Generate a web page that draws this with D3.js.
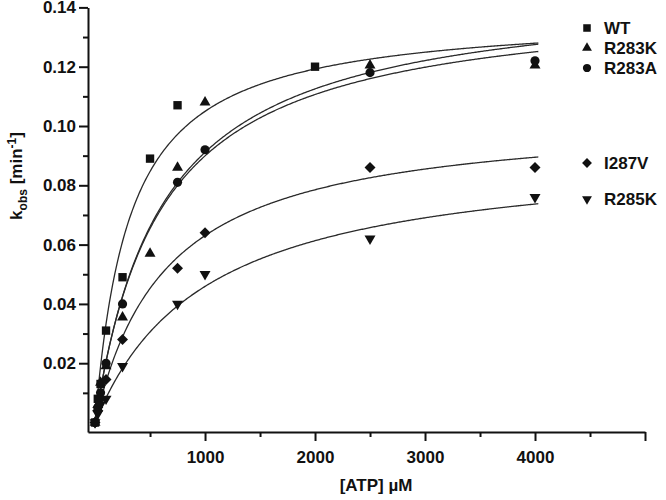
<!DOCTYPE html>
<html>
<head>
<meta charset="utf-8">
<script src="https://cdn.jsdelivr.net/npm/d3@7"></script>
<style>
  html, body { margin: 0; padding: 0; background: #fff; }
  svg { display: block; }
  text { font-family: "Liberation Sans", Arial, Helvetica, sans-serif; font-weight: bold; fill: #111; }
</style>
</head>
<body>
<svg id="chart" width="666" height="500"></svg>
<script>
// ---- data ----
const seriesNames = ["WT", "R283K", "R283A", "I287V", "R285K"];
const seriesSymbols = ["square", "triangle", "circle", "diamond", "downTriangle"];

const xWT    = [0, 25, 50, 100, 250, 500, 750, 2000];
const yWT    = [0, 0.008, 0.013, 0.031, 0.049, 0.089, 0.107, 0.120];
const xR283K = [0, 25, 50, 100, 250, 500, 750, 1000, 2500, 4000];
const yR283K = [0, 0.006, 0.0135, 0.019, 0.0355, 0.057, 0.086, 0.108, 0.1205, 0.1205];
const xR283A = [0, 25, 50, 100, 250, 750, 1000, 2500, 4000];
const yR283A = [0, 0.005, 0.010, 0.020, 0.040, 0.081, 0.092, 0.118, 0.122];
const xI287V = [0, 25, 50, 100, 250, 750, 1000, 2500, 4000];
const yI287V = [0, 0.004, 0.008, 0.0145, 0.028, 0.052, 0.064, 0.086, 0.086];
const xR285K = [0, 25, 50, 100, 250, 750, 1000, 2500, 4000];
const yR285K = [0, 0.003, 0.006, 0.008, 0.019, 0.040, 0.050, 0.062, 0.076];

// Michaelis-Menten fit parameters (kmax, Km)
const fitKmax = [0.138, 0.147, 0.1437, 0.104, 0.0923];
const fitKm   = [315, 613, 598, 650, 1011];
const fitXmax = 4030;

const xMajorTicks = [1000, 2000, 3000, 4000, 5000];
const xTickLabels = ["1000", "2000", "3000", "4000", ""];
const xMinorTicks = [500, 1500, 2500, 3500, 4500];
const yMajorTicks = [0.02, 0.04, 0.06, 0.08, 0.10, 0.12, 0.14];
const yTickLabels = ["0.02", "0.04", "0.06", "0.08", "0.10", "0.12", "0.14"];
const yMinorTicks = [0.01, 0.03, 0.05, 0.07, 0.09, 0.11, 0.13];

const legendY = [28, 48, 68, 163, 199];

const allX = [xWT, xR283K, xR283A, xI287V, xR285K];
const allY = [yWT, yR283K, yR283A, yI287V, yR285K];

// ---- scales ----
const x = d3.scaleLinear().domain([-64, 5000]).range([88, 645]);
const y = d3.scaleLinear().domain([-0.0032, 0.14]).range([432, 7.4]);

const svg = d3.select("#chart");

// ---- axes ----
const gx = svg.append("g").attr("transform", "translate(0,432)");
gx.call(d3.axisBottom(x).tickValues(xMajorTicks).tickSize(9).tickSizeOuter(0).tickPadding(10)
  .tickFormat((d, i) => xTickLabels[i]));
gx.append("g").call(d3.axisBottom(x).tickValues(xMinorTicks).tickSize(5).tickSizeOuter(0).tickFormat(""))
  .select(".domain").remove();

const gy = svg.append("g").attr("transform", "translate(88,0)");
gy.call(d3.axisLeft(y).tickValues(yMajorTicks).tickSize(9).tickSizeOuter(0).tickPadding(3)
  .tickFormat((d, i) => yTickLabels[i]));
gy.append("g").call(d3.axisLeft(y).tickValues(yMinorTicks).tickSize(5).tickSizeOuter(0).tickFormat(""))
  .select(".domain").remove();

svg.selectAll(".domain").attr("stroke", "#111").attr("stroke-width", 2);
svg.selectAll(".tick line").attr("stroke", "#111").attr("stroke-width", 2);
svg.selectAll(".tick text").attr("font-size", 17).attr("font-family", "Liberation Sans, Arial, sans-serif")
  .attr("font-weight", "bold").attr("fill", "#111");

// ---- axis titles ----
svg.append("text").attr("x", 376).attr("y", 491).attr("text-anchor", "middle")
  .attr("font-size", 17).text("[ATP] µM");

const yt = svg.append("text").attr("transform", "translate(22,176) rotate(-90)")
  .attr("text-anchor", "middle").attr("font-size", 17);
yt.append("tspan").text("k");
yt.append("tspan").attr("font-size", 12).attr("dy", 5).text("obs");
yt.append("tspan").attr("dy", -5).text(" [min");
yt.append("tspan").attr("font-size", 12).attr("dy", -6).text("-1");
yt.append("tspan").attr("dy", 6).text("]");

// ---- fitted curves ----
const line = d3.line().x(d => x(d[0])).y(d => y(d[1])).curve(d3.curveLinear);
fitKmax.forEach((kmax, i) => {
  const pts = d3.range(0, fitXmax + 1, 10).map(c => [c, kmax * c / (fitKm[i] + c)]);
  svg.append("path").attr("d", line(pts)).attr("fill", "none")
    .attr("stroke", "#2a2a2a").attr("stroke-width", 1.3);
});

// ---- markers ----
function symbolPath(type) {
  switch (type) {
    case "square": return d3.symbol(d3.symbolSquare, 70)();
    case "triangle": return d3.symbol(d3.symbolTriangle, 52)();
    case "circle": return d3.symbol(d3.symbolCircle, 66)();
    case "diamond": return d3.symbol(d3.symbolSquare, 60)();
    case "downTriangle": return d3.symbol(d3.symbolTriangle, 52)();
  }
}
function symbolRot(type) {
  if (type === "diamond") return 45;
  if (type === "downTriangle") return 180;
  return 0;
}

allX.forEach((xs, i) => {
  const type = seriesSymbols[i];
  const pts = xs.map((v, j) => [v, allY[i][j]]);
  svg.append("g").selectAll("path").data(pts).join("path")
    .attr("d", symbolPath(type))
    .attr("transform", d => `translate(${x(d[0])},${y(d[1])}) rotate(${symbolRot(type)})`)
    .attr("fill", "#111");
});

// ---- legend ----
seriesNames.forEach((name, i) => {
  const type = seriesSymbols[i];
  svg.append("path").attr("d", symbolPath(type))
    .attr("transform", `translate(587,${legendY[i]}) rotate(${symbolRot(type)}) scale(0.9)`)
    .attr("fill", "#111");
  svg.append("text").attr("x", 604).attr("y", legendY[i] + 6).attr("font-size", 17).text(name);
});
</script>
</body>
</html>
